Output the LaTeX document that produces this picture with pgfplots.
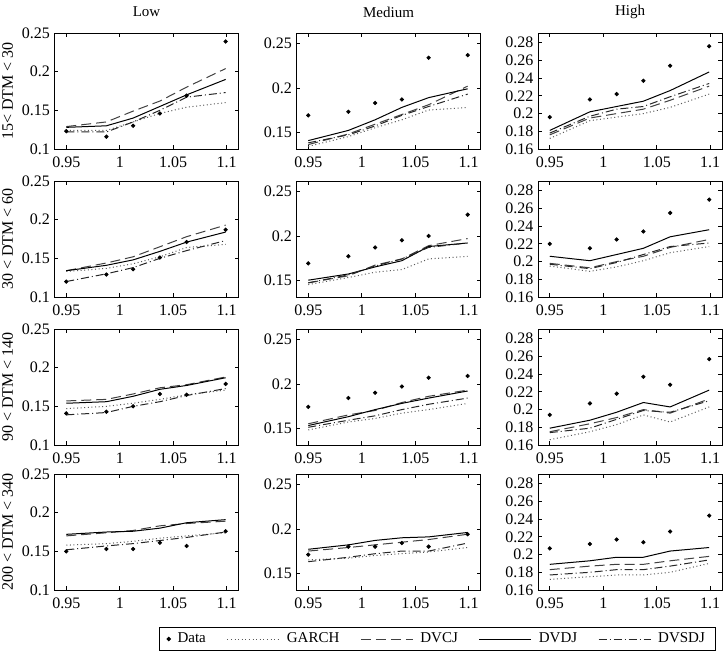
\documentclass[border=0pt]{standalone}
\usepackage{fontspec}
\setmainfont{Liberation Serif}
\usepackage{pgfplots}
\pgfplotsset{compat=1.18}
\usepackage{pgfplotstable}

% columns: x, d=Data, g=GARCH, c=DVCJ, j=DVDJ, s=DVSDJ
\pgfplotstableread{
x d g c j s
0.95   0.123 0.124 0.129 0.128 0.122
0.9875 0.116 0.124 0.135 0.130 0.122
1.0125 0.130 0.135 0.149 0.140 0.135
1.0375 0.146 0.146 0.162 0.155 0.150
1.0625 0.169 0.154 0.180 0.170 0.167
1.099  0.239 0.160 0.204 0.190 0.173
}\tA
\pgfplotstableread{
x d g c j s
0.95   0.169 0.134 0.136 0.1405 0.138
0.9875 0.173 0.145 0.148 0.152 0.147
1.0125 0.183 0.155 0.159 0.164 0.157
1.0375 0.187 0.164 0.170 0.178 0.169
1.0625 0.234 0.175 0.181 0.189 0.179
1.099  0.237 0.178 0.202 0.199 0.193
}\tB
\pgfplotstableread{
x d g c j s
0.95   0.196 0.172 0.176 0.181 0.178
0.9875 0.216 0.192 0.195 0.202 0.197
1.0125 0.222 0.196 0.200 0.208 0.205
1.0375 0.237 0.200 0.205 0.214 0.208
1.0625 0.254 0.207 0.215 0.226 0.219
1.099  0.276 0.222 0.231 0.247 0.234
}\tC
\pgfplotstableread{
x d g c j s
0.95   0.120 0.133 0.134 0.134 0.120
0.9875 0.129 0.137 0.144 0.141 0.130
1.0125 0.136 0.143 0.152 0.148 0.138
1.0375 0.151 0.152 0.165 0.159 0.150
1.0625 0.171 0.164 0.178 0.171 0.160
1.099  0.187 0.168 0.193 0.184 0.173
}\tD
\pgfplotstableread{
x d g c j s
0.95   0.169 0.145 0.147 0.150 0.147
0.9875 0.177 0.153 0.155 0.157 0.156
1.0125 0.187 0.159 0.167 0.165 0.166
1.0375 0.195 0.162 0.174 0.172 0.174
1.0625 0.200 0.174 0.189 0.188 0.187
1.099  0.224 0.177 0.197 0.192 0.192
}\tE
\pgfplotstableread{
x d g c j s
0.95   0.220 0.195 0.198 0.206 0.197
0.9875 0.215 0.189 0.193 0.201 0.192
1.0125 0.225 0.194 0.200 0.208 0.199
1.0375 0.234 0.201 0.206 0.215 0.208
1.0625 0.255 0.210 0.216 0.228 0.217
1.099  0.270 0.217 0.225 0.236 0.221
}\tF
\pgfplotstableread{
x d g c j s
0.95   0.141 0.147 0.157 0.154 0.139
0.9875 0.143 0.150 0.159 0.156 0.142
1.0125 0.150 0.154 0.166 0.163 0.150
1.0375 0.166 0.159 0.174 0.172 0.156
1.0625 0.165 0.165 0.178 0.177 0.164
1.099  0.179 0.171 0.188 0.187 0.173
}\tG
\pgfplotstableread{
x d g c j s
0.95   0.174 0.148 0.155 0.153 0.151
0.9875 0.184 0.157 0.165 0.163 0.159
1.0125 0.190 0.161 0.170 0.171 0.164
1.0375 0.197 0.167 0.179 0.178 0.171
1.0625 0.207 0.171 0.186 0.184 0.177
1.099  0.209 0.178 0.193 0.192 0.184
}\tH
\pgfplotstableread{
x d g c j s
0.95   0.194 0.166 0.175 0.179 0.174
0.9875 0.207 0.175 0.184 0.188 0.179
1.0125 0.218 0.183 0.191 0.197 0.189
1.0375 0.237 0.194 0.200 0.208 0.199
1.0625 0.228 0.186 0.196 0.203 0.197
1.099  0.257 0.203 0.212 0.222 0.210
}\tI
\pgfplotstableread{
x d g c j s
0.95   0.150 0.158 0.170 0.172 0.152
0.9875 0.153 0.160 0.174 0.175 0.157
1.0125 0.153 0.163 0.177 0.176 0.160
1.0375 0.161 0.167 0.183 0.180 0.164
1.0625 0.157 0.170 0.186 0.187 0.168
1.099  0.176 0.174 0.189 0.191 0.175
}\tJ
\pgfplotstableread{
x d g c j s
0.95   0.171 0.165 0.175 0.177 0.163
0.9875 0.180 0.167 0.179 0.182 0.168
1.0125 0.180 0.170 0.182 0.187 0.172
1.0375 0.184 0.172 0.185 0.190 0.175
1.0625 0.180 0.174 0.188 0.191 0.175
1.099  0.194 0.179 0.194 0.196 0.184
}\tK
\pgfplotstableread{
x d g c j s
0.95   0.207 0.172 0.183 0.189 0.177
0.9875 0.212 0.175 0.187 0.193 0.180
1.0125 0.217 0.177 0.189 0.197 0.183
1.0375 0.214 0.177 0.189 0.197 0.183
1.0625 0.226 0.180 0.193 0.204 0.187
1.099  0.244 0.190 0.198 0.208 0.194
}\tL

\pgfplotsset{
  panel/.style={
    scale only axis, width=92pt, height=58pt,
    xmin=0.939, xmax=1.111,
    xtick={0.95,1,1.05,1.1}, xticklabels={0.95,1,1.05,1.1},
    tick align=inside, major tick length=1.8pt,
    tick style={black, line width=0.4pt},
    axis line style={line width=0.5pt},
    tick label style={font=\fontsize{8}{9}\selectfont},
    xticklabel style={yshift=-0.5pt},
    yticklabel style={xshift=1.2pt},
    every axis title shift=0pt,
    title style={font=\fontsize{7.5}{9}\selectfont, at={(axis description cs:0.5,1.181)}, anchor=center, inner sep=0pt, yshift=0pt},
    every axis y label/.style={at={(axis description cs:-0.255,0.5)}, rotate=90, anchor=center, inner sep=0pt, font=\fontsize{8}{9}\selectfont},
    legend image code/.code={\draw[##1] (0pt,0pt) -- (26pt,0pt);},
  },
  low/.style={ymin=0.1, ymax=0.25, ytick={0.1,0.15,0.2,0.25}, yticklabels={0.1,0.15,0.2,0.25}},
  med/.style={ymin=0.131, ymax=0.262, ytick={0.15,0.2,0.25}, yticklabels={0.15,0.2,0.25}},
  high/.style={ymin=0.16, ymax=0.291, ytick={0.16,0.18,0.2,0.22,0.24,0.26,0.28}, yticklabels={0.16,0.18,0.2,0.22,0.24,0.26,0.28}},
  datast/.style={only marks, mark=*, mark size=0.85pt, black,
    legend image code/.code={\draw[##1] plot coordinates {(13pt,0pt)};}},
  garch/.style={black!65, line width=0.5pt, dash pattern=on 0.5pt off 1.3pt},
  dvcj/.style={black!75, line width=0.5pt, dash pattern=on 5pt off 2.5pt},
  dvdj/.style={black, line width=0.5pt, solid},
  dvsdj/.style={black!85, line width=0.5pt, dash pattern=on 4pt off 1.5pt on 0.5pt off 1.5pt},
}

\newcommand{\panel}[5]{%
\begin{axis}[panel, #3, at={(#1,#2)}, anchor=north west, #5]
\addplot[datast] table[x=x,y=d]{#4};
\addplot[garch] table[x=x,y=g]{#4};
\addplot[dvcj] table[x=x,y=c]{#4};
\addplot[dvdj] table[x=x,y=j]{#4};
\addplot[dvsdj] table[x=x,y=s]{#4};
\end{axis}}

\begin{document}
\begin{tikzpicture}
\path[use as bounding box] (0,0) rectangle (363pt,-327pt);
% row 1
\panel{27.25pt}{-16.5pt}{low}{\tA}{title={Low}, ylabel={15< DTM < 30}}
\panel{148.25pt}{-16.5pt}{med}{\tB}{title={Medium}}
\panel{269pt}{-16.5pt}{high}{\tC}{title={High}}
% row 2
\panel{27.25pt}{-90.5pt}{low}{\tD}{ylabel={30 < DTM < 60}}
\panel{148.25pt}{-90.5pt}{med}{\tE}{}
\panel{269pt}{-90.5pt}{high}{\tF}{}
% row 3
\panel{27.25pt}{-164.5pt}{low}{\tG}{ylabel={90 < DTM < 140}}
\panel{148.25pt}{-164.5pt}{med}{\tH}{}
\panel{269pt}{-164.5pt}{high}{\tI}{}
% row 4
\panel{27.25pt}{-237pt}{low}{\tJ}{ylabel={200 < DTM < 340},
  legend entries={Data,GARCH,DVCJ,DVDJ,DVSDJ},
  legend columns=5,
  legend style={at={(axis description cs:2.0815,-0.4224)}, anchor=center,
    draw=black, line width=0.5pt, fill=white,
    font=\fontsize{7.5}{9}\selectfont,
    inner xsep=4pt, inner ysep=1pt,
    nodes={inner sep=1.5pt},
    /tikz/every odd column/.append style={column sep=2pt},
    /tikz/every even column/.append style={column sep=9pt}}}
\panel{148.25pt}{-237pt}{med}{\tK}{}
\panel{269pt}{-237pt}{high}{\tL}{}
\end{tikzpicture}
\end{document}
